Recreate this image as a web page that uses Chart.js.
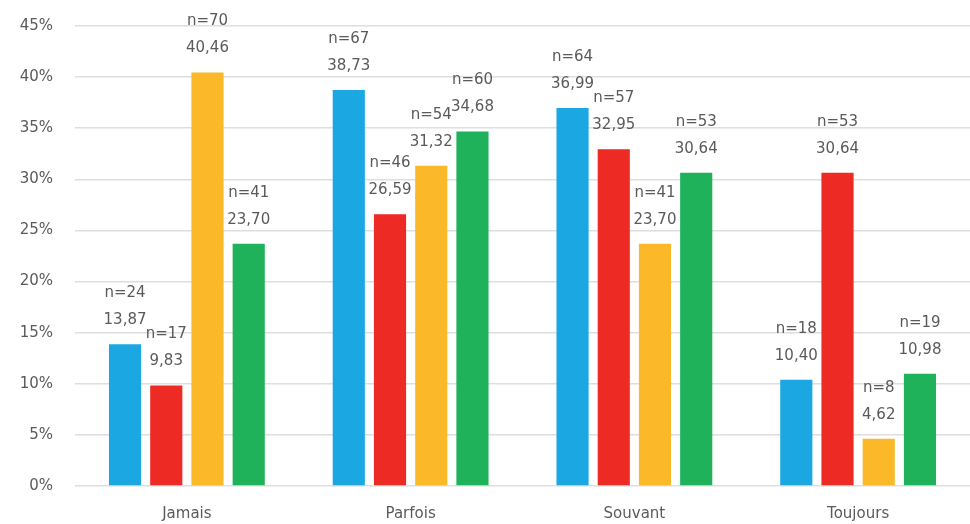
<!DOCTYPE html>
<html>
<head>
<meta charset="utf-8">
<script src="https://cdn.jsdelivr.net/npm/chart.js@4/dist/chart.umd.min.js"></script>
<style>
  html, body { margin: 0; padding: 0; background: #fff; }
  #wrap { width: 970px; height: 524px; }
</style>
</head>
<body>
<div id="wrap"><canvas id="chart"></canvas></div>
<script>
"use strict";

const categories = ["Jamais", "Parfois", "Souvant", "Toujours"];

// percentages per answer group
const pctBlue = [13.87, 38.73, 36.99, 10.40];
const pctRed = [9.83, 26.59, 32.95, 30.64];
const pctYellow = [40.46, 31.32, 23.70, 4.62];
const pctGreen = [23.70, 34.68, 30.64, 10.98];

// counts shown above the bars
const nBlue = [24, 67, 64, 18];
const nRed = [17, 46, 57, 53];
const nYellow = [70, 54, 41, 8];
const nGreen = [41, 60, 53, 19];

const yTicks = [0, 5, 10, 15, 20, 25, 30, 35, 40, 45];

const textColor = "#5a5a5a";
const fontFamily = "'DejaVu Sans', sans-serif";

function makeDataset(values, counts, color) {
  return {
    data: values,
    counts: counts,
    backgroundColor: color,
    borderWidth: 0,
    categoryPercentage: 0.737,
    barPercentage: 0.78
  };
}

// draws "n=.." and the value above each bar
const barLabels = {
  id: "barLabels",
  afterDatasetsDraw(chart) {
    const ctx = chart.ctx;
    ctx.save();
    ctx.font = "15px " + fontFamily;
    ctx.fillStyle = textColor;
    ctx.textAlign = "center";
    ctx.textBaseline = "middle";
    chart.data.datasets.forEach(function (ds, i) {
      const meta = chart.getDatasetMeta(i);
      meta.data.forEach(function (bar, j) {
        const valueText = ds.data[j].toFixed(2).replace(".", ",");
        ctx.fillText(valueText, bar.x, bar.y - 24);
        ctx.fillText("n=" + ds.counts[j], bar.x, bar.y - 51);
      });
    });
    ctx.restore();
  }
};

const config = {
  type: "bar",
  data: {
    labels: categories,
    datasets: [
      makeDataset(pctBlue, nBlue, "#1ba8e2"),
      makeDataset(pctRed, nRed, "#ee2a25"),
      makeDataset(pctYellow, nYellow, "#fbb92a"),
      makeDataset(pctGreen, nGreen, "#1fb25b")
    ]
  },
  options: {
    responsive: true,
    maintainAspectRatio: false,
    animation: false,
    layout: { padding: { top: 26, right: 0, bottom: 0, left: 0 } },
    plugins: {
      legend: { display: false },
      tooltip: { enabled: false }
    },
    scales: {
      x: {
        grid: { display: false, drawTicks: false },
        border: { display: false },
        ticks: {
          color: textColor,
          font: { family: fontFamily, size: 15 },
          padding: 19
        },
        afterFit(scale) { scale.height = 38; }
      },
      y: {
        min: 0,
        max: 45,
        afterBuildTicks(scale) {
          scale.ticks = yTicks.map(v => ({ value: v }));
        },
        grid: { color: "#dedede", lineWidth: 1.5, drawTicks: false },
        border: { display: false },
        ticks: {
          color: textColor,
          font: { family: fontFamily, size: 15 },
          padding: 22,
          callback: v => v + "%"
        },
        afterFit(scale) {
          scale.width = 75;
          scale.paddingTop = 0;
          scale.paddingBottom = 0;
        }
      }
    }
  },
  plugins: [barLabels]
};

new Chart(document.getElementById("chart").getContext("2d"), config);
</script>
</body>
</html>
